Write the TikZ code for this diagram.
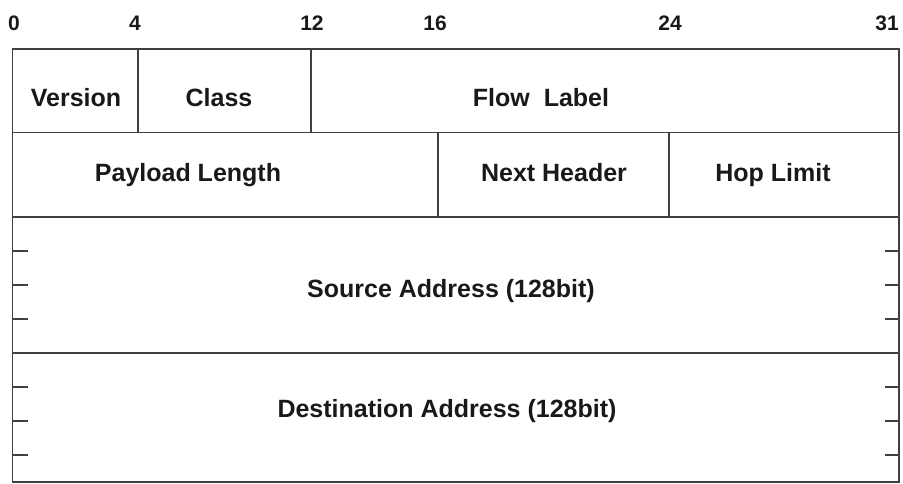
\documentclass[tikz,border=0pt]{standalone}
\usepackage{fontspec}
\setmainfont{Liberation Sans}
\tikzset{
  field/.style={draw=black!75, line width=1.6pt, inner sep=0pt, outer sep=0pt, rectangle},
  lbl/.style={font=\fontsize{25}{29}\selectfont\bfseries, inner sep=0pt, text=black!90, anchor=base},
  bitno/.style={font=\fontsize{21}{24}\selectfont\bfseries, inner sep=0pt, text=black!90, anchor=base},
  tick/.style={draw=black!75, line width=1.6pt}
}
\newcommand\fieldbox[5]{%
  \node[field, minimum width={(#4-#2)*1pt}, minimum height={(#5-#3)*1pt}] (#1) at ({(#2+#4)/2},{(#3+#5)/2}) {};}
\begin{document}
\begin{tikzpicture}[x=1pt,y=-1pt]
\useasboundingbox (0,0) rectangle (903,483);
% bit numbers
\node[bitno] (b0) at (14,30) {0};
\node[bitno] (b4) at (135,30) {4};
\node[bitno] (b12) at (312,30) {12};
\node[bitno] (b16) at (435,30) {16};
\node[bitno] (b24) at (670,30) {24};
\node[bitno] (b31) at (887,30) {31};
% fields
\fieldbox{ver}{12.5}{49}{138}{132.5}
\fieldbox{cls}{138}{49}{311}{132.5}
\fieldbox{flow}{311}{49}{899}{132.5}
\fieldbox{pay}{12.5}{132.5}{438}{217}
\fieldbox{nxt}{438}{132.5}{669}{217}
\fieldbox{hop}{669}{132.5}{899}{217}
\fieldbox{src}{12.5}{217}{899}{353}
\fieldbox{dst}{12.5}{353}{899}{482}
% labels
\node[lbl] (tver) at (76,106) {Version};
\node[lbl] (tcls) at (219,106) {Class};
\node[lbl] (tflow) at (541,106) {Flow\ \ Label};
\node[lbl] (tpay) at (188,181) {Payload Length};
\node[lbl] (tnxt) at (554,181) {Next Header};
\node[lbl] (thop) at (773,181) {Hop Limit};
\node[lbl] (tsrc) at (451,297) {Source Address (128bit)};
\node[lbl] (tdst) at (447,417) {Destination Address (128bit)};
% ticks
\foreach \y in {251,285,319,387,421,455}{
  \draw[tick] (12.5,\y) -- (28,\y);
  \draw[tick] (885,\y) -- (899,\y);
}
\end{tikzpicture}
\end{document}
